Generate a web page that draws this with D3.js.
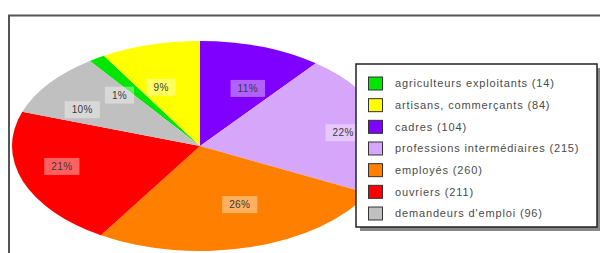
<!DOCTYPE html>
<html>
<head>
<meta charset="utf-8">
<script src="https://cdn.jsdelivr.net/npm/d3@7"></script>
<style>
  html, body { margin: 0; padding: 0; background: #fff; }
  svg { display: block; }
</style>
</head>
<body>
<svg id="chart" width="600" height="253"></svg>
<script>
// ---- data ----
const categories = [
  "agriculteurs exploitants",
  "artisans, commerçants",
  "cadres",
  "professions intermédiaires",
  "employés",
  "ouvriers",
  "demandeurs d'emploi"
];
const values = [14, 84, 104, 215, 260, 211, 96];
const colors = ["#00e600", "#ffff00", "#8000ff", "#d6a6fb", "#ff8000", "#ff0000", "#c0c0c0"];

// ---- layout ----
const W = 600, H = 253;
const cx = 200, cy = 146, rx = 188, ry = 105;
const svg = d3.select("#chart");

// frame
svg.append("path")
  .attr("d", `M9,${H} L9,15.5 L${W},15.5`)
  .attr("fill", "none").attr("stroke", "#555").attr("stroke-width", 2);

const total = d3.sum(values);
const offset = -(values[0] + values[1]) / total * 2 * Math.PI;

const pie = d3.pie().sort(null).value(d => d)
  .startAngle(offset).endAngle(offset + 2 * Math.PI);
const arcs = pie(values);
const arc = d3.arc().innerRadius(0).outerRadius(ry);

const g = svg.append("g").attr("transform", `translate(${cx},${cy}) scale(${rx / ry},1)`);
g.selectAll("path").data(arcs).enter().append("path")
  .attr("d", arc)
  .attr("fill", (d, i) => colors[i]);

// percentage labels
const fmt = v => Math.round(v / total * 100) + "%";
const kx = 0.78, ky = 0.58;
const lg = svg.append("g");
arcs.forEach((d, i) => {
  const a = (d.startAngle + d.endAngle) / 2;
  const x = cx + kx * rx * Math.sin(a);
  const y = cy - ky * ry * Math.cos(a);
  const grp = lg.append("g").attr("transform", `translate(${x},${y})`);
  const t = grp.append("text")
    .attr("text-anchor", "middle").attr("dy", "0.35em")
    .attr("font-family", "Liberation Sans, Arial, sans-serif")
    .attr("font-size", 10).attr("letter-spacing", 0.4).attr("fill", "#3a3a3a")
    .text(fmt(values[i]));
  const w = t.node().getComputedTextLength() + 14;
  grp.insert("rect", "text")
    .attr("x", -w / 2).attr("y", -8.5).attr("width", w).attr("height", 17)
    .attr("fill", "#fff").attr("fill-opacity", 0.38);
});

// legend
const LX = 356, LY = 64, LW = 241, LH = 163;
const leg = svg.append("g");
leg.append("rect").attr("x", LX + 4).attr("y", LY + 4).attr("width", LW).attr("height", LH)
  .attr("fill", "#888");
leg.append("rect").attr("x", LX).attr("y", LY).attr("width", LW).attr("height", LH)
  .attr("fill", "#fff").attr("stroke", "#222").attr("stroke-width", 1.5);
const rowY = d3.scaleLinear().domain([0, categories.length - 1]).range([LY + 19.5, LY + 149.5]);
categories.forEach((c, i) => {
  const y = rowY(i);
  leg.append("rect").attr("x", LX + 12.5).attr("y", y - 6.5).attr("width", 14).attr("height", 13)
    .attr("fill", colors[i]).attr("stroke", "#333").attr("stroke-width", 1);
  leg.append("text").attr("x", LX + 39).attr("y", y).attr("dy", "0.35em")
    .attr("font-family", "Liberation Sans, Arial, sans-serif")
    .attr("font-size", 11).attr("letter-spacing", 0.85).attr("fill", "#4a4a4a")
    .text(`${c} (${values[i]})`);
});
</script>
</body>
</html>
